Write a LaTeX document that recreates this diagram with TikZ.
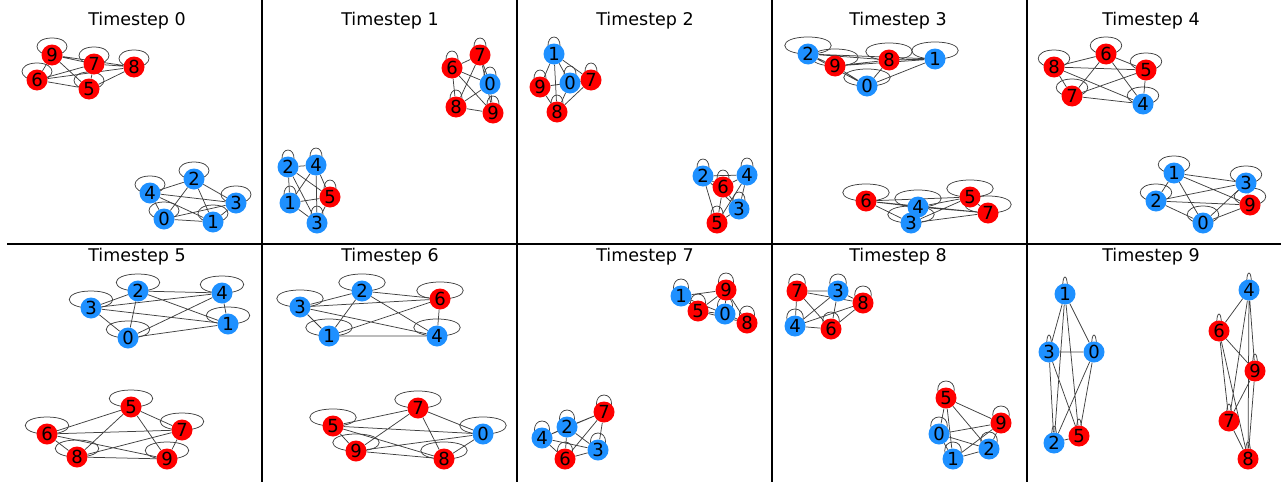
\documentclass[tikz,border=0pt]{standalone}
\usepackage{fontspec}
\setmainfont{DejaVu Sans}
\usetikzlibrary{calc}
\pgfdeclarelayer{background}
\pgfsetlayers{background,main}
\definecolor{nblue}{HTML}{1E90FF}
\definecolor{nred}{HTML}{FF0000}
\tikzset{
  gnode/.style={circle,inner sep=0pt,minimum size=21pt,draw=none,font=\fontsize{18}{18}\selectfont},
  rn/.style={gnode,fill=nred},
  bn/.style={gnode,fill=nblue},
  edge/.style={draw=black!75,line width=0.75pt},
  divider/.style={draw=black,line width=2pt},
  ttl/.style={anchor=base,inner sep=0pt,font=\fontsize{17.5}{17.5}\selectfont}
}
\newcommand\sloop[2]{\draw[edge] (#1.center) .. controls ($(#1)+(#2,0)$) and ($(#1)+(#2,-17)$) .. ($(#1)+(0,-17)$) .. controls ($(#1)+(-#2,-17)$) and ($(#1)+(-#2,0)$) .. (#1.center);}
\newcommand\clique[7]{%
  \draw[edge] (#1#3)--(#1#4) (#1#3)--(#1#5) (#1#3)--(#1#6) (#1#3)--(#1#7)
    (#1#4)--(#1#5) (#1#4)--(#1#6) (#1#4)--(#1#7)
    (#1#5)--(#1#6) (#1#5)--(#1#7) (#1#6)--(#1#7);
  \sloop{#1#3}{#2}\sloop{#1#4}{#2}\sloop{#1#5}{#2}\sloop{#1#6}{#2}\sloop{#1#7}{#2}}
\begin{document}
\begin{tikzpicture}[x=1pt,y=-1pt]
\useasboundingbox (0,0) rectangle (1288,482);
% titles
\node[ttl] (t0) at (137,25) {Timestep 0};
\node[ttl] (t1) at (390,25) {Timestep 1};
\node[ttl] (t2) at (645,25) {Timestep 2};
\node[ttl] (t3) at (898,25) {Timestep 3};
\node[ttl] (t4) at (1151,25) {Timestep 4};
\node[ttl] (t5) at (137,261) {Timestep 5};
\node[ttl] (t6) at (390,261) {Timestep 6};
\node[ttl] (t7) at (645,261) {Timestep 7};
\node[ttl] (t8) at (898,261) {Timestep 8};
\node[ttl] (t9) at (1151,261) {Timestep 9};
% dividers
\coordinate (v1a) at (262,0); \coordinate (v1b) at (262,482);
\coordinate (v2a) at (517,0); \coordinate (v2b) at (517,482);
\coordinate (v3a) at (772,0); \coordinate (v3b) at (772,482);
\coordinate (v4a) at (1027,0); \coordinate (v4b) at (1027,482);
\coordinate (ha) at (7,244); \coordinate (hb) at (1281,244);
\draw[divider] (v1a)--(v1b) (v2a)--(v2b) (v3a)--(v3b) (v4a)--(v4b) (ha)--(hb);
% panel 0
\node[bn] (a0) at (164,219) {0};
\node[bn] (a1) at (213,222) {1};
\node[bn] (a2) at (194,179) {2};
\node[bn] (a3) at (236,203) {3};
\node[bn] (a4) at (150,193) {4};
\node[rn] (a5) at (89,89) {5};
\node[rn] (a6) at (37,80) {6};
\node[rn] (a7) at (94,64) {7};
\node[rn] (a8) at (134,67) {8};
\node[rn] (a9) at (52,55) {9};
% panel 1
\node[bn] (b0) at (490,84) {0};
\node[bn] (b1) at (290,203) {1};
\node[bn] (b2) at (288,167) {2};
\node[bn] (b3) at (317,223) {3};
\node[bn] (b4) at (316,165) {4};
\node[rn] (b5) at (330,197) {5};
\node[rn] (b6) at (452,68) {6};
\node[rn] (b7) at (480,55) {7};
\node[rn] (b8) at (456,107) {8};
\node[rn] (b9) at (493,113) {9};
% panel 2
\node[bn] (c0) at (570,83) {0};
\node[bn] (c1) at (554,54) {1};
\node[bn] (c2) at (703,176) {2};
\node[bn] (c3) at (739,209) {3};
\node[bn] (c4) at (747,175) {4};
\node[rn] (c5) at (717,223) {5};
\node[rn] (c6) at (723,187) {6};
\node[rn] (c7) at (591,80) {7};
\node[rn] (c8) at (557,112) {8};
\node[rn] (c9) at (540,87) {9};
% panel 3
\node[bn] (d0) at (867,86) {0};
\node[bn] (d1) at (935,59) {1};
\node[bn] (d2) at (808,54) {2};
\node[bn] (d3) at (911,223) {3};
\node[bn] (d4) at (918,207) {4};
\node[rn] (d5) at (970,197) {5};
\node[rn] (d6) at (866,201) {6};
\node[rn] (d7) at (988,213) {7};
\node[rn] (d8) at (889,60) {8};
\node[rn] (d9) at (835,66) {9};
% panel 4
\node[bn] (e0) at (1203,223) {0};
\node[bn] (e1) at (1174,173) {1};
\node[bn] (e2) at (1156,201) {2};
\node[bn] (e3) at (1246,183) {3};
\node[bn] (e4) at (1143,104) {4};
\node[rn] (e5) at (1146,70) {5};
\node[rn] (e6) at (1106,54) {6};
\node[rn] (e7) at (1072,96) {7};
\node[rn] (e8) at (1054,67) {8};
\node[rn] (e9) at (1250,205) {9};
% panel 5
\node[bn] (f0) at (128,338) {0};
\node[bn] (f1) at (228,324) {1};
\node[bn] (f2) at (138,291) {2};
\node[bn] (f3) at (91,308) {3};
\node[bn] (f4) at (222,293) {4};
\node[rn] (f5) at (131,407) {5};
\node[rn] (f6) at (47,434) {6};
\node[rn] (f7) at (182,430) {7};
\node[rn] (f8) at (77,457) {8};
\node[rn] (f9) at (167,459) {9};
% panel 6
\node[bn] (g0) at (483,434) {0};
\node[bn] (g1) at (329,336) {1};
\node[bn] (g2) at (362,291) {2};
\node[bn] (g3) at (300,307) {3};
\node[bn] (g4) at (437,336) {4};
\node[rn] (g5) at (333,426) {5};
\node[rn] (g6) at (440,299) {6};
\node[rn] (g7) at (418,408) {7};
\node[rn] (g8) at (444,459) {8};
\node[rn] (g9) at (356,451) {9};
% panel 7
\node[bn] (h0) at (725,314) {0};
\node[bn] (h1) at (681,296) {1};
\node[bn] (h2) at (567,427) {2};
\node[bn] (h3) at (598,450) {3};
\node[bn] (h4) at (542,438) {4};
\node[rn] (h5) at (698,311) {5};
\node[rn] (h6) at (565,459) {6};
\node[rn] (h7) at (604,412) {7};
\node[rn] (h8) at (747,323) {8};
\node[rn] (h9) at (726,290) {9};
% panel 8
\node[bn] (i0) at (939,434) {0};
\node[bn] (i1) at (953,459) {1};
\node[bn] (i2) at (989,449) {2};
\node[bn] (i3) at (838,291) {3};
\node[bn] (i4) at (795,326) {4};
\node[rn] (i5) at (946,398) {5};
\node[rn] (i6) at (831,329) {6};
\node[rn] (i7) at (797,291) {7};
\node[rn] (i8) at (863,303) {8};
\node[rn] (i9) at (1001,423) {9};
% panel 9
\node[bn] (j0) at (1094,352) {0};
\node[bn] (j1) at (1065,294) {1};
\node[bn] (j2) at (1054,443) {2};
\node[bn] (j3) at (1049,352) {3};
\node[bn] (j4) at (1249,290) {4};
\node[rn] (j5) at (1079,436) {5};
\node[rn] (j6) at (1219,331) {6};
\node[rn] (j7) at (1229,421) {7};
\node[rn] (j8) at (1248,459) {8};
\node[rn] (j9) at (1255,371) {9};
\begin{pgfonlayer}{background}
\clique{a}{20}{9}{7}{8}{6}{5}
\clique{a}{20}{2}{4}{3}{0}{1}
\clique{b}{8}{7}{6}{0}{8}{9}
\clique{b}{8}{2}{4}{5}{1}{3}
\clique{c}{8}{1}{9}{0}{7}{8}
\clique{c}{8}{2}{4}{6}{3}{5}
\clique{d}{31}{2}{9}{8}{1}{0}
\clique{d}{31}{6}{4}{5}{7}{3}
\clique{e}{21}{8}{6}{5}{7}{4}
\clique{e}{21}{1}{3}{2}{9}{0}
\clique{f}{29}{2}{4}{3}{1}{0}
\clique{f}{29}{5}{7}{6}{8}{9}
\clique{g}{31}{2}{6}{3}{1}{4}
\clique{g}{31}{7}{5}{0}{9}{8}
\clique{h}{10}{9}{1}{5}{0}{8}
\clique{h}{10}{7}{2}{4}{3}{6}
\clique{i}{11}{7}{3}{8}{4}{6}
\clique{i}{11}{5}{9}{0}{2}{1}
\clique{j}{3}{1}{3}{0}{2}{5}
\clique{j}{3}{4}{6}{9}{7}{8}
\end{pgfonlayer}
\end{tikzpicture}
\end{document}
